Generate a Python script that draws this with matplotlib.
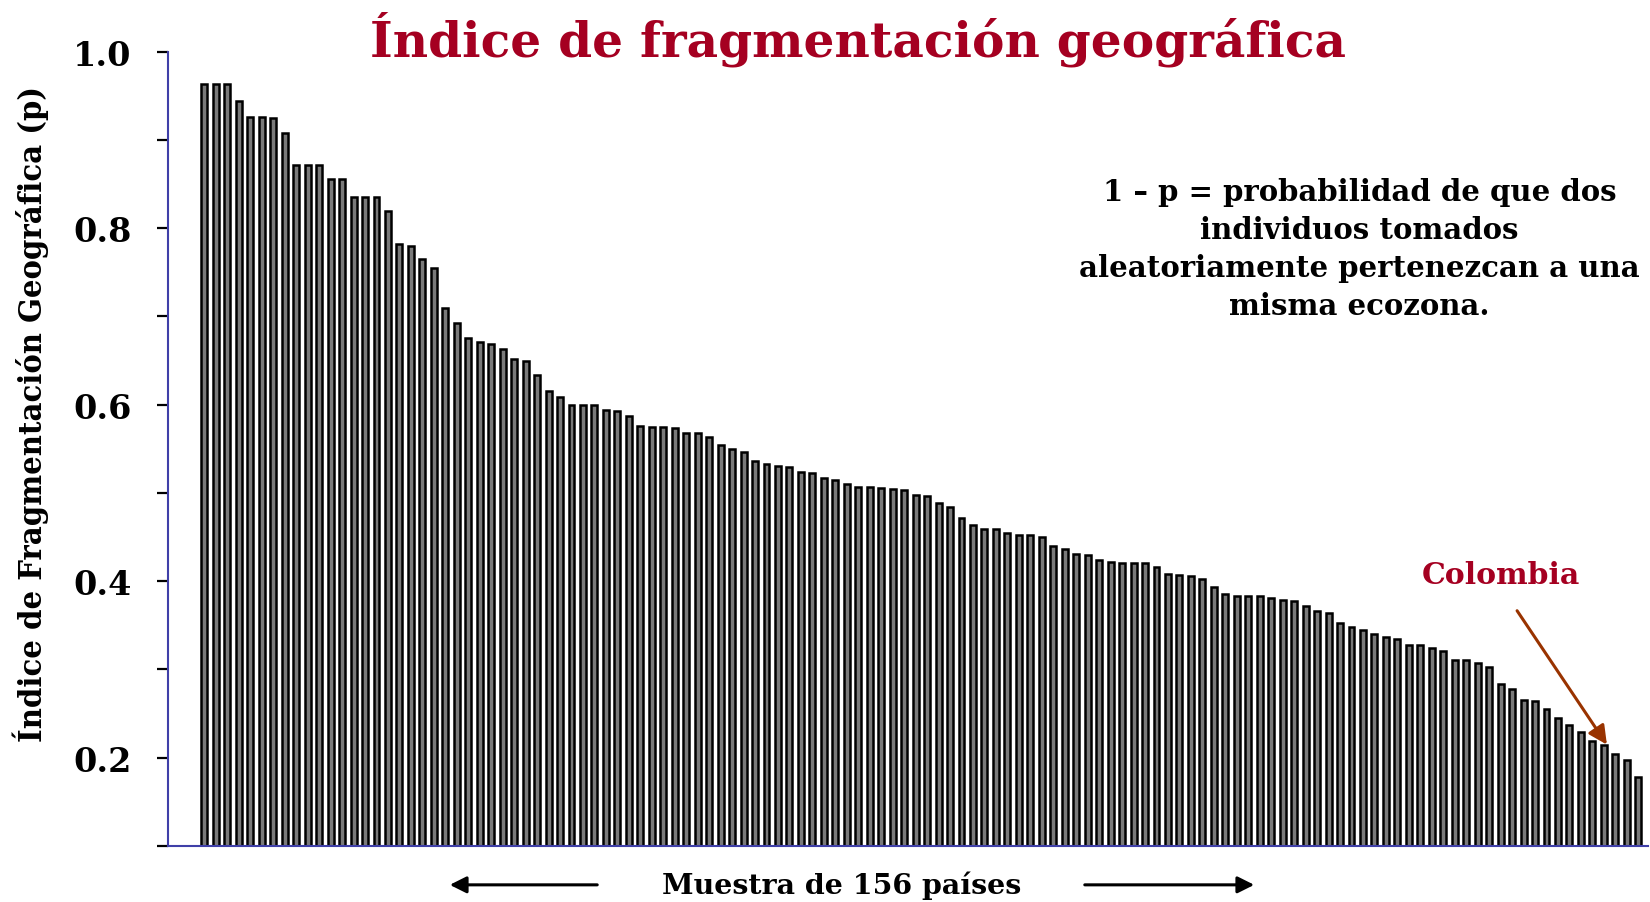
import matplotlib.pyplot as plt
import numpy as np

# bar heights, sorted high -> low
valores = [
    0.963, 0.963, 0.963, 0.944, 0.926, 0.926, 0.925, 0.908, 0.872, 0.872,
    0.872, 0.856, 0.856, 0.835, 0.835, 0.835, 0.819, 0.782, 0.780, 0.765,
    0.755, 0.709, 0.692, 0.675, 0.671, 0.669, 0.663, 0.652, 0.649, 0.634,
    0.616, 0.609, 0.600, 0.600, 0.600, 0.594, 0.593, 0.587, 0.576, 0.575,
    0.575, 0.573, 0.568, 0.568, 0.563, 0.554, 0.550, 0.546, 0.536, 0.533,
    0.531, 0.529, 0.524, 0.522, 0.517, 0.514, 0.510, 0.507, 0.507, 0.506,
    0.504, 0.503, 0.498, 0.496, 0.488, 0.484, 0.471, 0.464, 0.459, 0.459,
    0.455, 0.452, 0.452, 0.450, 0.440, 0.436, 0.431, 0.430, 0.424, 0.422,
    0.421, 0.420, 0.420, 0.416, 0.408, 0.407, 0.406, 0.402, 0.393, 0.385,
    0.383, 0.383, 0.383, 0.381, 0.378, 0.377, 0.372, 0.366, 0.364, 0.353,
    0.348, 0.344, 0.340, 0.337, 0.334, 0.328, 0.327, 0.324, 0.321, 0.311,
    0.311, 0.307, 0.303, 0.283, 0.278, 0.265, 0.264, 0.255, 0.245, 0.237,
    0.229, 0.219, 0.214, 0.204, 0.197, 0.178,
]
colombia = 122  # index of Colombia in valores

y_ticks = [0.1, 0.2, 0.3, 0.4, 0.5, 0.6, 0.7, 0.8, 0.9, 1.0]
y_labels = ['', '0.2', '', '0.4', '', '0.6', '', '0.8', '', '1.0']

rojo = '#A50021'
azul = '#3F3FA8'
serif = 'DejaVu Serif'

fig = plt.figure(figsize=(16.5, 9.03), dpi=100)
ax = fig.add_axes([0.1016, 0.0623, 0.8972, 0.8793])

x = np.arange(len(valores))
ax.bar(x, valores, width=0.52, color='#7a7a7a', edgecolor='black', linewidth=1.8)

ax.set_xlim(-3.21, 125.85)
ax.set_ylim(0.1, 1.0)
ax.set_xticks([])
ax.set_yticks(y_ticks)
ax.set_yticklabels(y_labels, fontfamily=serif, fontweight='bold', fontsize=24)
ax.tick_params(axis='y', length=8, width=1.6, pad=18)

for s in ['top', 'right']:
    ax.spines[s].set_visible(False)
for s in ['left', 'bottom']:
    ax.spines[s].set_color(azul)
    ax.spines[s].set_linewidth(1.5)

ax.set_ylabel('Índice de Fragmentación Geográfica (p)', fontfamily=serif,
              fontstretch='condensed', fontweight='bold', fontsize=23.3)
ax.yaxis.set_label_coords(-0.080, 0.545)

fig.text(0.52, 0.957, 'Índice de fragmentación geográfica', color=rojo,
         fontfamily=serif, fontweight='bold', fontsize=35, ha='center', va='center')

fig.text(0.824, 0.7235, '1 – p = probabilidad de que dos\nindividuos tomados\n'
         'aleatoriamente pertenezcan a una\nmisma ecozona.',
         fontfamily=serif, fontweight='bold', fontsize=21, ha='center', va='center',
         linespacing=1.4)

# Colombia arrow
ax.annotate('', xy=(colombia + 0.4, valores[colombia] - 0.002),
            xytext=(colombia - 7.7, 0.369),
            arrowprops=dict(arrowstyle='-|>', color='#993300', lw=2.2, mutation_scale=28))
ax.text(colombia - 9.0, 0.408, 'Colombia', color=rojo, fontfamily=serif,
        fontweight='bold', fontsize=21.5, ha='center', va='center')

# x label with arrows
fig.text(0.51, 0.019, 'Muestra de 156 países', fontfamily=serif, fontweight='bold',
         fontsize=20.5, ha='center', va='center')
fig.add_artist(plt.matplotlib.patches.FancyArrowPatch(
    (600 / 1650, 0.019), (447 / 1650, 0.019), transform=fig.transFigure,
    arrowstyle='-|>', color='black', lw=2.2, mutation_scale=25))
fig.add_artist(plt.matplotlib.patches.FancyArrowPatch(
    (1082 / 1650, 0.019), (1257 / 1650, 0.019), transform=fig.transFigure,
    arrowstyle='-|>', color='black', lw=2.2, mutation_scale=25))

fig.savefig('out.png', dpi=100)
